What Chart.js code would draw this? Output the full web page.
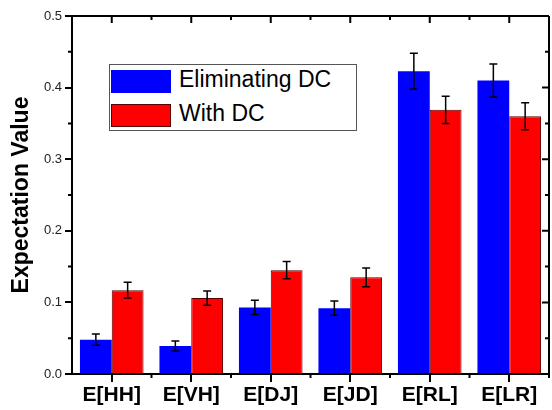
<!DOCTYPE html>
<html>
<head>
<meta charset="utf-8">
<script src="https://cdn.jsdelivr.net/npm/chart.js"></script>
<style>
  body { margin: 0; padding: 0; background: #fff; }
  #wrap { position: relative; width: 552px; height: 410px; }
  #legend {
    position: absolute; left: 109px; top: 64px; width: 248px; height: 67px;
    border: 1px solid #555; background: #fff; box-sizing: border-box;
    font-family: "Liberation Sans", Arial, sans-serif; font-size: 23px; color: #000;
  }
  .row { position: absolute; left: 1px; height: 24px; }
  .sw { position: absolute; left: 0; top: 0; width: 60px; height: 23px; box-sizing: border-box; }
  .lbl { position: absolute; left: 68px; top: -4px; white-space: nowrap; }
</style>
</head>
<body>
<div id="wrap">
  <canvas id="myChart" width="552" height="410"></canvas>
  <div id="legend">
    <div class="row" style="top:5px"><div class="sw" style="background:#0000ff"></div><div class="lbl">Eliminating DC</div></div>
    <div class="row" style="top:39px"><div class="sw" style="background:#ff0000;border:1px solid #5a0000"></div><div class="lbl">With DC</div></div>
  </div>
</div>
<script>
  const categories = ['E[HH]', 'E[VH]', 'E[DJ]', 'E[JD]', 'E[RL]', 'E[LR]'];
  const eliminatingDC = [0.048, 0.039, 0.093, 0.092, 0.423, 0.410];
  const eliminatingErr = [0.008, 0.007, 0.010, 0.010, 0.025, 0.023];
  const withDC = [0.117, 0.106, 0.145, 0.135, 0.369, 0.360];
  const withErr = [0.011, 0.010, 0.012, 0.013, 0.019, 0.019];
  const yTicks = [0, 0.1, 0.2, 0.3, 0.4, 0.5];

  const FONT = '"Liberation Sans", Arial, sans-serif';

  // error bars + frame (top/right axes, minor ticks)
  const extras = {
    id: 'extras',
    afterDatasetsDraw(chart) {
      const ctx = chart.ctx;
      const y = chart.scales.y;
      const x = chart.scales.x;
      const a = chart.chartArea;
      ctx.save();
      ctx.strokeStyle = '#000';
      ctx.lineWidth = 1.5;
      const errs = [eliminatingErr, withErr];
      chart.data.datasets.forEach((ds, di) => {
        chart.getDatasetMeta(di).data.forEach((bar, i) => {
          const v = ds.data[i], e = errs[di][i];
          const top = y.getPixelForValue(v + e), bot = y.getPixelForValue(v - e);
          ctx.beginPath();
          ctx.moveTo(bar.x, top); ctx.lineTo(bar.x, bot);
          ctx.moveTo(bar.x - 4, top); ctx.lineTo(bar.x + 4, top);
          ctx.moveTo(bar.x - 4, bot); ctx.lineTo(bar.x + 4, bot);
          ctx.stroke();
        });
      });
      ctx.lineWidth = 2;
      ctx.beginPath();
      ctx.moveTo(a.left, a.top); ctx.lineTo(a.right, a.top);
      ctx.moveTo(a.right, a.top); ctx.lineTo(a.right, a.bottom);
      // y minor ticks + right ticks
      for (let v = 0; v <= 0.5001; v += 0.05) {
        const py = y.getPixelForValue(v);
        const major = Math.abs(v * 10 - Math.round(v * 10)) < 1e-6;
        if (!major) { ctx.moveTo(a.left - 4, py); ctx.lineTo(a.left, py); }
        ctx.moveTo(a.right, py); ctx.lineTo(a.right - (major ? 7 : 4), py);
      }
      // x boundary ticks + top ticks
      const step = x.getPixelForValue(1) - x.getPixelForValue(0);
      for (let i = 0; i < categories.length; i++) {
        const cx = x.getPixelForValue(i);
        ctx.moveTo(cx, a.top); ctx.lineTo(cx, a.top + 7);
        const bx = cx + step / 2;
        ctx.moveTo(bx, a.bottom); ctx.lineTo(bx, a.bottom + 4);
        ctx.moveTo(bx, a.top); ctx.lineTo(bx, a.top + 4);
      }
      ctx.stroke();
      ctx.restore();
    }
  };

  new Chart(document.getElementById('myChart'), {
    type: 'bar',
    data: {
      labels: categories,
      datasets: [
        { label: 'Eliminating DC', data: eliminatingDC, backgroundColor: '#0000ff', borderColor: '#0000ff', borderWidth: 0 },
        { label: 'With DC', data: withDC, backgroundColor: '#ff0000', borderColor: '#5a0000', borderWidth: 1 }
      ]
    },
    options: {
      responsive: false,
      animation: false,
      devicePixelRatio: 1,
      categoryPercentage: 0.8,
      barPercentage: 1.0,
      layout: { padding: { top: 16, right: 3, left: 0, bottom: 0 } },
      plugins: { legend: { display: false }, tooltip: { enabled: false } },
      scales: {
        x: {
          grid: { offset: false, drawOnChartArea: false, color: '#000', lineWidth: 2, tickLength: 8 },
          border: { color: '#000', width: 2 },
          ticks: { color: '#000', font: { family: FONT, size: 21, weight: 'bold' }, padding: 1, maxRotation: 0 },
          afterFit(s) { s.height = 36; }
        },
        y: {
          min: 0, max: 0.5,
          afterBuildTicks(s) { s.ticks = yTicks.map(v => ({ value: v })); },
          grid: { drawOnChartArea: false, color: '#000', lineWidth: 2, tickLength: 7 },
          border: { color: '#000', width: 2 },
          ticks: { color: '#222', font: { family: FONT, size: 13 }, padding: 3, callback: v => v.toFixed(1) },
          title: { display: true, text: 'Expectation Value', color: '#000', font: { family: FONT, size: 23, weight: 'bold' }, padding: { top: 8, bottom: 0 } },
          afterFit(s) { s.width = 72; }
        }
      }
    },
    plugins: [extras]
  });
</script>
</body>
</html>
